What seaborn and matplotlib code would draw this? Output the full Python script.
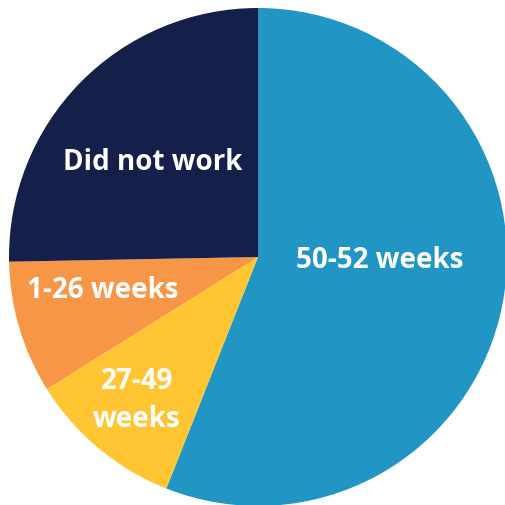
import matplotlib.pyplot as plt
import numpy as np
import seaborn as sns

categories = ['50-52 weeks', '27-49\nweeks', '1-26 weeks', 'Did not work']
shares = [56.0, 10.1, 8.6, 25.3]
colors = ['#2196C4', '#FFC533', '#F79646', '#14204A']

sns.set_style('white')
plt.rcParams['font.family'] = ['Open Sans', 'DejaVu Sans']

fig = plt.figure(figsize=(5.05, 5.06), dpi=100)
ax = fig.add_axes([0, 0, 1, 1])
wedges, _ = ax.pie(shares, colors=colors, startangle=90, counterclock=False,
                   wedgeprops=dict(linewidth=0))

# label placement: (radius, angle in degrees)
label_pos = [(0.49, -1), (0.75, 229.6), (0.636, 191.7), (0.57, 137.9)]
for lab, (r, a) in zip(categories, label_pos):
    x, y = r * np.cos(np.radians(a)), r * np.sin(np.radians(a))
    ax.text(x, y, lab, color='white', fontsize=20, fontweight='bold',
            ha='center', va='center', linespacing=1.4)

ax.set_xlim(-258 / 249, 247 / 249)
ax.set_ylim(-248 / 249, 258 / 249)
ax.set_aspect('auto')
ax.axis('off')
plt.savefig('out.png', dpi=100)
